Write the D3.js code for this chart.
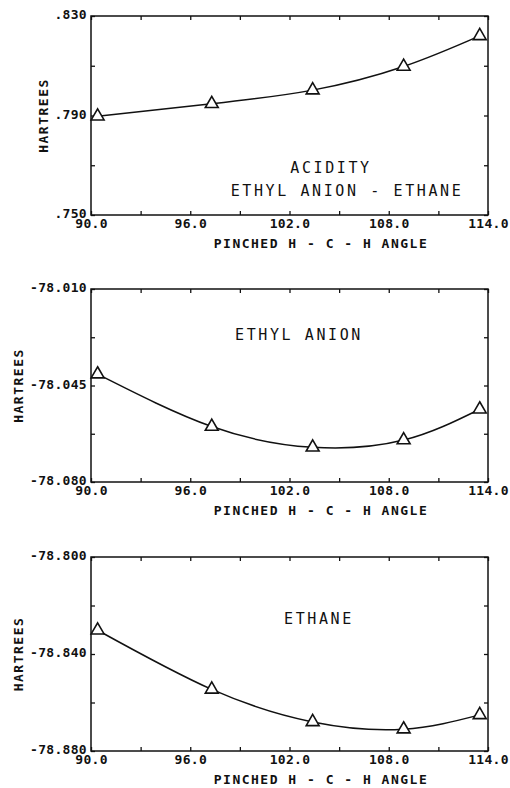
<!DOCTYPE html>
<html>
    <head>
        <title>pinched angle hartrees</title>
        <script src="https://d3js.org/d3.v7.min.js"></script>
        <style>
            body { margin: 0; background: white; }
            text { font-family: "DejaVu Sans Mono", monospace; fill: #111; }
        </style>
    </head>
    <body>
        <svg id="container" width="510" height="788"></svg>
    </body>
    <script>
        // values (x = pinched H-C-H angle, degrees)
        let angles = [90.4, 97.3, 103.4, 108.9, 113.5]
        let acidity = [0.7897, 0.7947, 0.8002, 0.8097, 0.8220]
        let anion = [-78.0409, -78.0599, -78.0674, -78.0648, -78.0536]
        let ethane = [-78.8302, -78.8546, -78.8680, -78.8710, -78.8651]

        let xTicks = [90, 93, 96, 99, 102, 105, 108, 111, 114]
        let xTickLabels = ["90.0", "", "96.0", "", "102.0", "", "108.0", "", "114.0"]

        let acidityTicks = [0.750, 0.770, 0.790, 0.810, 0.830]
        let acidityLabels = [".750", "", ".790", "", ".830"]
        let anionTicks = [-78.080, -78.0625, -78.045, -78.0275, -78.010]
        let anionLabels = ["-78.080", "", "-78.045", "", "-78.010"]
        let ethaneTicks = [-78.880, -78.860, -78.840, -78.820, -78.800]
        let ethaneLabels = ["-78.880", "", "-78.840", "", "-78.800"]

        let xTitle = "PINCHED H - C - H ANGLE"
        let yTitle = "HARTREES"

        let svg = d3.select('#container')
        let left = 91, right = 488

        let panels = [
            {top: 16, bottom: 215, values: acidity, ticks: acidityTicks, labels: acidityLabels,
             yTitleX: 43, notes: [["ACIDITY", 331, 173], ["ETHYL ANION - ETHANE", 347, 196]]},
            {top: 289, bottom: 482, values: anion, ticks: anionTicks, labels: anionLabels,
             yTitleX: 18, notes: [["ETHYL ANION", 299, 340]]},
            {top: 557, bottom: 751, values: ethane, ticks: ethaneTicks, labels: ethaneLabels,
             yTitleX: 18, notes: [["ETHANE", 319, 624]]}
        ]

        panels.forEach(drawPanel)

        function drawPanel(p){
            let x = d3.scaleLinear().domain([90, 114]).range([left, right])
            let y = d3.scaleLinear()
                .domain([p.ticks[0], p.ticks[p.ticks.length - 1]])
                .range([p.bottom, p.top])

            let g = svg.append("g")

            // inward ticks on all four sides
            let bottomAxis = d3.axisBottom(x).tickValues(xTicks)
                .tickSize(-4).tickSizeOuter(0).tickPadding(4)
                .tickFormat((d, i) => xTickLabels[i])
            let topAxis = d3.axisTop(x).tickValues(xTicks)
                .tickSize(-4).tickSizeOuter(0).tickFormat("")
            let leftAxis = d3.axisLeft(y).tickValues(p.ticks)
                .tickSize(-4).tickSizeOuter(0).tickPadding(4)
                .tickFormat((d, i) => p.labels[i])
            let rightAxis = d3.axisRight(y).tickValues(p.ticks)
                .tickSize(-4).tickSizeOuter(0).tickFormat("")

            g.append("g").attr("transform", `translate(0,${p.bottom})`).call(bottomAxis)
            g.append("g").attr("transform", `translate(0,${p.top})`).call(topAxis)
            let yg = g.append("g").attr("transform", `translate(${left},0)`).call(leftAxis)
            g.append("g").attr("transform", `translate(${right},0)`).call(rightAxis)

            g.selectAll(".domain").remove()
            g.selectAll(".tick line").attr("stroke", "#111").attr("stroke-width", 1.3)
            g.selectAll(".tick text")
                .style("font-size", "13px")
                .style("font-weight", "bold")
                .style("letter-spacing", "0.3px")
                .attr("fill", "#111")
            // y labels sit a little higher, as on the plotter output
            yg.selectAll(".tick text").attr("dy", "0.2em")

            g.append("rect")
                .attr("x", left).attr("y", p.top)
                .attr("width", right - left).attr("height", p.bottom - p.top)
                .attr("fill", "none").attr("stroke", "#111").attr("stroke-width", 1.5)

            // smooth curve through the points
            let pts = angles.map((a, i) => [a, p.values[i]])
            let line = d3.line()
                .x(d => x(d[0])).y(d => y(d[1]))
                .curve(d3.curveNatural)
            g.append("path")
                .attr("d", line(pts))
                .attr("fill", "none").attr("stroke", "#111").attr("stroke-width", 1.5)

            g.selectAll(".pt").data(pts).enter().append("path")
                .attr("class", "pt")
                .attr("transform", d => `translate(${x(d[0])},${y(d[1])})`)
                .attr("d", d3.symbol(d3.symbolTriangle, 72))
                .attr("fill", "white").attr("stroke", "#111").attr("stroke-width", 1.6)

            // axis titles
            g.append("text")
                .attr("x", 321).attr("y", p.bottom + 33)
                .attr("text-anchor", "middle")
                .style("font-size", "13px").style("font-weight", "bold")
                .style("letter-spacing", "1.5px")
                .text(xTitle)
            g.append("text")
                .attr("transform", `translate(${p.yTitleX},${(p.top + p.bottom) / 2}) rotate(-90)`)
                .attr("text-anchor", "middle").attr("dy", "0.35em")
                .style("font-size", "13px").style("font-weight", "bold")
                .style("letter-spacing", "1.5px")
                .text(yTitle)

            // labels inside the frame
            p.notes.forEach(n => {
                g.append("text")
                    .attr("x", n[1]).attr("y", n[2])
                    .attr("text-anchor", "middle")
                    .style("font-size", "15px")
                    .style("letter-spacing", "2.6px")
                    .text(n[0])
            })
        }
    </script>
</html>
